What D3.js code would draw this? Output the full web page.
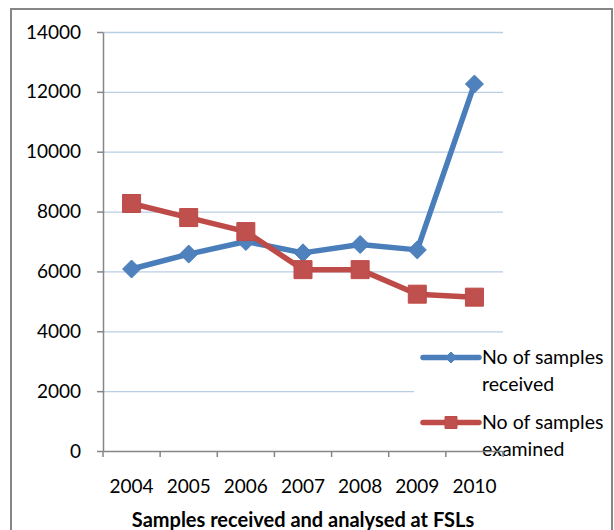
<!DOCTYPE html>
<html>
<head>
<meta charset="utf-8">
<script src="https://cdn.jsdelivr.net/npm/d3@7/dist/d3.min.js"></script>
<style>
  html, body { margin: 0; padding: 0; background: #ffffff; }
  svg { display: block; font-family: Lato, "Open Sans", sans-serif; }
</style>
</head>
<body>
<svg id="chart" width="614" height="530"></svg>
<script>
// Chart data
const years = ["2004", "2005", "2006", "2007", "2008", "2009", "2010"];
const received = [6080, 6580, 7000, 6620, 6900, 6720, 12260];
const examined = [8270, 7800, 7330, 6060, 6060, 5240, 5140];
const yTicks = [0, 2000, 4000, 6000, 8000, 10000, 12000, 14000];
const seriesNames = ["No of samples received", "No of samples examined"];
const chartTitle = "Samples received and analysed at FSLs";

const svg = d3.select("#chart");
const plot = { left: 103, right: 503, top: 32, bottom: 451 };
const axisColor = "#868686";
const gridColor = "#b9cde5";
const blue = { line: "#4a7ebb", fill: "#4f81bd" };
const red = { line: "#be4b48", fill: "#c0504d" };
const tickFont = 19;
const legendFont = 19.5;

const x = d3.scaleBand().domain(years).range([plot.left, plot.right]).padding(0);
const y = d3.scaleLinear().domain([0, 14000]).range([plot.bottom, plot.top]);
const cx = d => x(d) + x.bandwidth() / 2;

// Chart frame
svg.append("rect")
  .attr("x", 11).attr("y", 9).attr("width", 601).attr("height", 540)
  .attr("fill", "#fff").attr("stroke", axisColor).attr("stroke-width", 2);

// Horizontal gridlines
svg.append("g")
  .attr("transform", `translate(${plot.left},0)`)
  .call(d3.axisLeft(y).tickValues(yTicks.filter(v => v > 0))
    .tickSize(-(plot.right - plot.left)).tickFormat(""))
  .call(g => g.select(".domain").remove())
  .call(g => g.selectAll(".tick line").attr("stroke", gridColor).attr("stroke-width", 1.3));

// Marker shapes
const diamondType = {
  draw(ctx, size) {
    const r = Math.sqrt(size) / 2;
    ctx.moveTo(0, -r); ctx.lineTo(r, 0); ctx.lineTo(0, r); ctx.lineTo(-r, 0); ctx.closePath();
  }
};
const squareType = {
  draw(ctx, size) {
    const h = Math.sqrt(size) / 2;
    ctx.rect(-h, -h, 2 * h, 2 * h);
  }
};

const series = [
  { values: received, color: blue, type: diamondType, size: 18 * 18, legendSize: 11 * 11 },
  { values: examined, color: red, type: squareType, size: 18 * 18, legendSize: 12 * 12 }
];

const lineGen = d3.line().x((d, i) => cx(years[i])).y(d => y(d));

series.forEach(s => {
  const g = svg.append("g");
  g.append("path")
    .datum(s.values)
    .attr("d", lineGen)
    .attr("fill", "none")
    .attr("stroke", s.color.line)
    .attr("stroke-width", 5.5)
    .attr("stroke-linejoin", "round");
  g.selectAll("path.marker")
    .data(s.values)
    .join("path")
    .attr("class", "marker")
    .attr("transform", (d, i) => `translate(${cx(years[i])},${y(d)})`)
    .attr("d", d3.symbol().type(s.type).size(s.size))
    .attr("fill", s.color.fill)
    .attr("stroke", s.color.line)
    .attr("stroke-width", 1);
});

// Legend
const legend = svg.append("g");
legend.append("rect")
  .attr("x", 414).attr("y", 338).attr("width", 196).attr("height", 128)
  .attr("fill", "#fff");
const legendRows = [
  { y: 357.5, lines: ["No of samples", "received"] },
  { y: 422.5, lines: ["No of samples", "examined"] }
];
series.forEach((s, i) => {
  const row = legendRows[i];
  legend.append("line")
    .attr("x1", 423).attr("x2", 479).attr("y1", row.y).attr("y2", row.y)
    .attr("stroke", s.color.line).attr("stroke-width", 5.5).attr("stroke-linecap", "round");
  legend.append("path")
    .attr("transform", `translate(451,${row.y})`)
    .attr("d", d3.symbol().type(s.type).size(s.legendSize))
    .attr("fill", s.color.fill).attr("stroke", s.color.line);
  const t = legend.append("text")
    .attr("x", 482).attr("y", row.y)
    .attr("font-size", legendFont).attr("fill", "#000");
  row.lines.forEach((ln, k) => {
    t.append("tspan").attr("x", 482).attr("dy", k === 0 ? "0.35em" : "1.35em").text(ln);
  });
});

// Y axis
svg.append("g")
  .attr("transform", `translate(${plot.left},0)`)
  .call(d3.axisLeft(y).tickValues(yTicks).tickFormat(d3.format("d"))
    .tickSize(6).tickPadding(16).tickSizeOuter(0))
  .call(g => g.select(".domain").attr("stroke", axisColor).attr("stroke-width", 1.5))
  .call(g => g.selectAll(".tick line").attr("stroke", axisColor).attr("stroke-width", 1.5))
  .call(g => g.selectAll(".tick text").attr("font-size", tickFont).attr("fill", "#000")
    .attr("font-family", "Lato, 'Open Sans', sans-serif"));

// X axis: labels centred on categories, ticks on category boundaries
const xAxis = svg.append("g")
  .attr("transform", `translate(0,${plot.bottom})`)
  .call(d3.axisBottom(x).tickSize(0).tickPadding(29))
  .call(g => g.select(".domain").attr("stroke", axisColor).attr("stroke-width", 1.5))
  .call(g => g.selectAll(".tick text").attr("font-size", tickFont).attr("fill", "#000")
    .attr("font-family", "Lato, 'Open Sans', sans-serif"));
const bounds = years.map(d => x(d)).concat([x(years[years.length - 1]) + x.bandwidth()]);
xAxis.selectAll("line.bound")
  .data(bounds)
  .join("line")
  .attr("class", "bound")
  .attr("x1", d => d).attr("x2", d => d)
  .attr("y1", 0).attr("y2", 6)
  .attr("stroke", axisColor).attr("stroke-width", 1.5);

// Title
svg.append("text")
  .attr("x", (plot.left + plot.right) / 2)
  .attr("y", 527)
  .attr("text-anchor", "middle")
  .attr("font-size", 20)
  .attr("font-weight", "bold")
  .attr("fill", "#000")
  .text(chartTitle);
</script>
</body>
</html>
